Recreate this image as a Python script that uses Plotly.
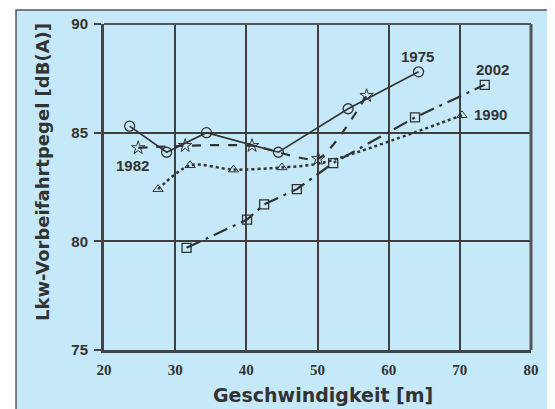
import plotly.graph_objects as go

# Data
x_1975 = [23.6, 28.8, 34.4, 44.5, 54.3, 64.2]
y_1975 = [85.3, 84.1, 85.0, 84.1, 86.1, 87.8]

x_1982 = [24.8, 31.4, 40.8, 50.1, 56.9]
y_1982 = [84.3, 84.4, 84.4, 83.8, 86.7]

x_1990 = [27.6, 32.1, 38.2, 45.0, 50.5, 70.3]
y_1990 = [82.4, 83.5, 83.3, 83.4, 83.6, 85.8]

x_2002 = [31.6, 40.1, 42.5, 47.1, 52.2, 63.7, 73.5]
y_2002 = [79.7, 81.0, 81.7, 82.4, 83.6, 85.7, 87.2]

labels = ["1975", "1982", "1990", "2002"]
label_x = [64.1, 24.0, 74.3, 74.6]
label_y = [88.5, 83.5, 85.85, 87.9]

x_ticks = [20, 30, 40, 50, 60, 70, 80]
y_ticks = [75, 80, 85, 90]

x_title = "Geschwindigkeit [m]"
y_title = "Lkw-Vorbeifahrtpegel [dB(A)]"

ink = "#333333"
grid = "#3f3f3f"
bg = "#C6E9FA"

fig = go.Figure()
fig.add_trace(go.Scatter(x=x_1975, y=y_1975, mode="lines+markers",
                         line=dict(color=ink, width=1.6),
                         marker=dict(symbol="circle-open", size=10, color=ink, line=dict(width=1.3))))
fig.add_trace(go.Scatter(x=x_1982, y=y_1982, mode="lines+markers",
                         line=dict(color=ink, width=2.2, dash="dash", shape="spline", smoothing=0.6),
                         marker=dict(symbol="star-open", size=10, color=ink, line=dict(width=1))))
fig.add_trace(go.Scatter(x=x_1990, y=y_1990, mode="lines+markers",
                         line=dict(color=ink, width=2.5, dash="dot", shape="spline", smoothing=0.8),
                         marker=dict(symbol="triangle-up-open", size=9, color=ink, line=dict(width=1),
                                     opacity=[1, 1, 1, 1, 0, 1])))
fig.add_trace(go.Scatter(x=x_2002, y=y_2002, mode="lines+markers",
                         line=dict(color=ink, width=2.2, dash="longdashdot"),
                         marker=dict(symbol="square-open", size=9, color=ink, line=dict(width=1.3))))

for t, lx, ly in zip(labels, label_x, label_y):
    fig.add_annotation(x=lx, y=ly, text=t, showarrow=False,
                       font=dict(family="Liberation Sans", size=15, color=ink, weight="bold"))

# axis titles
fig.add_annotation(xref="paper", yref="paper", x=(323 - 104) / 427, y=(350 - 395) / 326,
                   text=x_title, showarrow=False, xanchor="center", yanchor="middle",
                   font=dict(family="DejaVu Sans", size=19, color=ink, weight="bold"))
fig.add_annotation(xref="paper", yref="paper", x=(42 - 104) / 427, y=(350 - 172) / 326,
                   text=y_title, showarrow=False, textangle=-90, xanchor="center", yanchor="middle",
                   font=dict(family="DejaVu Sans", size=18, color=ink, weight="bold"))

# outer panel
fig.add_shape(type="rect", xref="paper", yref="paper", x0=-0.206, x1=1.3, y0=-0.4, y1=1.043,
              fillcolor=bg, line=dict(color="#555555", width=1.5), layer="below")
# top and right frame
fig.add_shape(type="line", xref="paper", yref="paper", x0=0, x1=1, y0=1, y1=1,
              line=dict(color="#555555", width=2))
fig.add_shape(type="line", xref="paper", yref="paper", x0=1, x1=1, y0=0, y1=1,
              line=dict(color="#555555", width=3))

fig.update_xaxes(range=[20, 80], tickvals=x_ticks, showgrid=True, gridcolor=grid, gridwidth=1.5,
                 showline=True, linecolor="#444444", linewidth=3, ticks="", zeroline=False,
                 automargin=False, ticklabelstandoff=4,
                 tickfont=dict(family="Liberation Serif", size=15, color=ink, weight="bold"))
fig.update_yaxes(range=[75, 90], tickvals=y_ticks, showgrid=True, gridcolor=grid, gridwidth=1.5,
                 showline=True, linecolor="#444444", linewidth=3, ticks="outside", ticklen=7,
                 tickcolor="#444444", tickwidth=1.5, zeroline=False,
                 automargin=False, ticklabelstandoff=3,
                 tickfont=dict(family="Liberation Sans", size=15, color=ink, weight="bold"))

# the page adds an 8px body margin, so the figure is 8px smaller and its margins 8px narrower
fig.update_layout(width=547, height=401, margin=dict(l=96, r=24, t=16, b=59),
                  paper_bgcolor="white", plot_bgcolor="rgba(0,0,0,0)", showlegend=False)

fig.write_html("out.html")
